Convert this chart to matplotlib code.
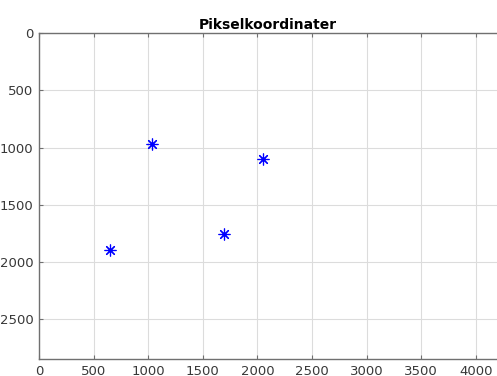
import matplotlib
matplotlib.use('Agg')
import matplotlib.pyplot as plt

# Pikselkoordinater for de fire punktene
x_px = [646, 1038, 1690, 2055]
y_px = [1891, 971, 1751, 1097]

x_ticks = [0, 500, 1000, 1500, 2000, 2500, 3000, 3500, 4000]
y_ticks = [0, 500, 1000, 1500, 2000, 2500]

fig = plt.figure(figsize=(4.97, 3.76), dpi=100)
ax = fig.add_axes([39 / 497, 1 - 359 / 376, 1 - 39 / 497, (359 - 33) / 376])

# asterisk-markør som i MATLAB ('*')
ax.plot(x_px, y_px, linestyle='none', marker=(8, 2, 0), color='#0000ff',
        markersize=8.5, markeredgewidth=0.85)

ax.set_xlim(0, 4195)
ax.set_ylim(2845, 0)
ax.set_xticks(x_ticks)
ax.set_yticks(y_ticks)

ax.grid(True, color='#dcdcdc', linewidth=0.8)
ax.set_axisbelow(True)

for side in ['left', 'top', 'bottom']:
    ax.spines[side].set_color('#707070')
    ax.spines[side].set_linewidth(1.0)
ax.spines['right'].set_visible(False)

ax.tick_params(direction='in', length=3, color='#707070', labelcolor='#383838',
               labelsize=9.5, top=True, right=False, pad=4)

ax.set_title('Pikselkoordinater', fontsize=10, fontweight='bold', pad=3)

fig.savefig('out.png', dpi=100)
